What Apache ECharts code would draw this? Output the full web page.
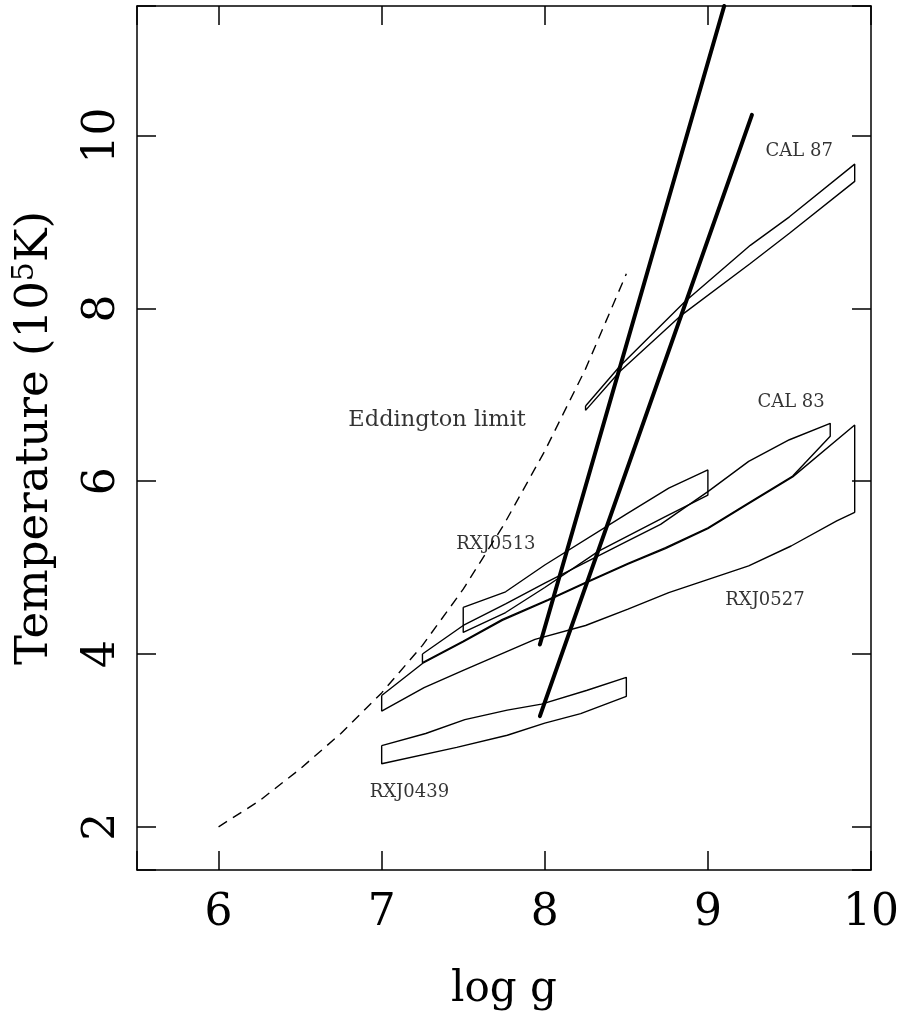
<!DOCTYPE html>
<html>
<head>
<meta charset="utf-8">
<script src="https://cdn.jsdelivr.net/npm/echarts@6/dist/echarts.min.js"></script>
<style>
html,body{margin:0;padding:0;background:#fff;}
#chart{width:902px;height:1016px;}
</style>
</head>
<body>
<div id="chart"></div>
<script>
// ---- data (log g, Temperature in 10^5 K) ----
const xTicks = [6, 7, 8, 9, 10];
const yTicks = [2, 4, 6, 8, 10];

const eddington = [[6.0,2.0],[6.25,2.3],[6.5,2.67],[6.75,3.08],[7.0,3.55],[7.25,4.1],[7.5,4.75],[7.75,5.5],[8.0,6.35],[8.25,7.3],[8.5,8.4]];

const thickA = [[7.97,4.11],[9.10,11.5]];
const thickB = [[7.97,3.28],[9.27,10.24]];

const cal87Upper = [[8.25,6.87],[8.46,7.33],[8.86,8.08],[9.26,8.73],[9.50,9.06],[9.90,9.67]];
const cal87Lower = [[8.25,6.82],[8.46,7.27],[8.83,7.91],[9.26,8.52],[9.50,8.87],[9.90,9.47]];

const rxj0513Upper = [[7.5,4.54],[7.76,4.72],[8.0,5.03],[8.5,5.62],[8.76,5.92],[9.0,6.13]];
const rxj0513Lower = [[7.5,4.25],[7.76,4.48],[8.0,4.77],[8.33,5.19],[8.73,5.58],[9.0,5.84]];

const cal83Upper = [[7.25,4.0],[7.5,4.33],[7.76,4.58],[8.0,4.82],[8.5,5.3],[8.71,5.5],[9.0,5.88],[9.25,6.23],[9.5,6.48],[9.75,6.67]];
const cal83Lower = [[7.25,3.9],[7.5,4.15],[7.74,4.4],[8.02,4.63],[8.25,4.83],[8.51,5.05],[8.74,5.23],[9.0,5.46],[9.25,5.75],[9.52,6.06],[9.75,6.52]];

const rxj0527Upper = [[7.0,3.52],[7.25,3.89],[7.5,4.14],[7.74,4.39],[8.02,4.62],[8.25,4.82],[8.51,5.04],[8.74,5.22],[9.0,5.45],[9.25,5.74],[9.52,6.05],[9.9,6.65]];
const rxj0527Lower = [[7.0,3.34],[7.26,3.61],[7.5,3.81],[7.94,4.17],[8.25,4.33],[8.51,4.52],[8.76,4.71],[9.25,5.02],[9.51,5.25],[9.79,5.54],[9.9,5.64]];

const rxj0439Upper = [[7.0,2.94],[7.27,3.08],[7.51,3.24],[7.77,3.35],[7.98,3.42],[8.26,3.58],[8.5,3.73]];
const rxj0439Lower = [[7.0,2.73],[7.46,2.92],[7.77,3.06],[8.0,3.2],[8.22,3.31],[8.5,3.51]];

const labelNames = ['Eddington limit','CAL 87','CAL 83','RXJ0513','RXJ0527','RXJ0439'];
const labelX = [7.34, 9.56, 9.51, 7.70, 9.35, 7.17];
const labelY = [6.71, 9.82, 6.91, 5.27, 4.62, 2.40];

// ---- build ----
function box(upper, lower){
  return upper.concat(lower.slice().reverse()).concat([upper[0]]);
}
const FONT = 'DejaVu Serif';
const thin = {color:'#000', width:1.4};
function lineSeries(data, style){
  return {type:'line', data:data, symbol:'none', smooth:false, silent:true,
          lineStyle:Object.assign({}, style), clip:true, z:3};
}

const chart = echarts.init(document.getElementById('chart'), null, {renderer:'canvas'});
const axisCommon = {
  type:'value',
  axisLine:{show:true, onZero:false, lineStyle:{color:'#000', width:1.5}},
  axisTick:{show:true, inside:true, length:19, lineStyle:{color:'#000', width:1.5}},
  splitLine:{show:false},
};
chart.setOption({
  animation:false,
  backgroundColor:'#fff',
  grid:{left:137, right:30, top:6, bottom:144, containLabel:false},
  xAxis:[
    Object.assign({}, axisCommon, {
      position:'bottom', min:5.5, max:10, minInterval:1, maxInterval:1,
      name:'log g', nameLocation:'middle', nameGap:99,
      nameTextStyle:{fontFamily:FONT, fontSize:42, color:'#000'},
      axisLabel:{show:true, margin:22, fontFamily:FONT, fontSize:44, color:'#000',
        formatter:function(v){ return xTicks.indexOf(v) >= 0 ? String(v) : ''; }}
    }),
    Object.assign({}, axisCommon, {
      position:'top', min:5.5, max:10, minInterval:1, maxInterval:1,
      axisLabel:{show:false}
    })
  ],
  yAxis:[
    Object.assign({}, axisCommon, {
      position:'left', min:1.5, max:11.5, minInterval:2, maxInterval:2,
      name:'Temperature (10{sup|5}K)', nameLocation:'middle', nameGap:77, nameRotate:90,
      nameTextStyle:{fontFamily:FONT, fontSize:45, color:'#000',
        rich:{sup:{fontFamily:FONT, fontSize:30, color:'#000', verticalAlign:'top', lineHeight:50}}},
      axisLabel:{show:true, rotate:90, margin:12, fontFamily:FONT, fontSize:44, color:'#000',
        formatter:function(v){ return yTicks.indexOf(v) >= 0 ? String(v) : ''; }}
    }),
    Object.assign({}, axisCommon, {
      position:'right', min:1.5, max:11.5, minInterval:2, maxInterval:2,
      axisLabel:{show:false}
    })
  ],
  series:[
    lineSeries(eddington, {color:'#000', width:1.4, type:[10,7]}),
    lineSeries(box(cal87Upper, cal87Lower), thin),
    lineSeries(box(rxj0513Upper, rxj0513Lower), thin),
    lineSeries(box(cal83Upper, cal83Lower), thin),
    lineSeries(box(rxj0527Upper, rxj0527Lower), thin),
    lineSeries(box(rxj0439Upper, rxj0439Lower), thin),
    lineSeries(thickA, {color:'#000', width:4, cap:'round'}),
    lineSeries(thickB, {color:'#000', width:4, cap:'round'}),
    {
      type:'scatter', symbolSize:0, silent:true, z:5,
      data: labelNames.map(function(n,i){
        return {name:n, value:[labelX[i], labelY[i]],
                label: n==='Eddington limit' ? {fontSize:22.5} : {}};
      }),
      label:{show:true, position:'inside', color:'#000', fontFamily:FONT,
        formatter:function(p){ return p.name; },
        fontSize:18}
    }
  ]
});
</script>
</body>
</html>
